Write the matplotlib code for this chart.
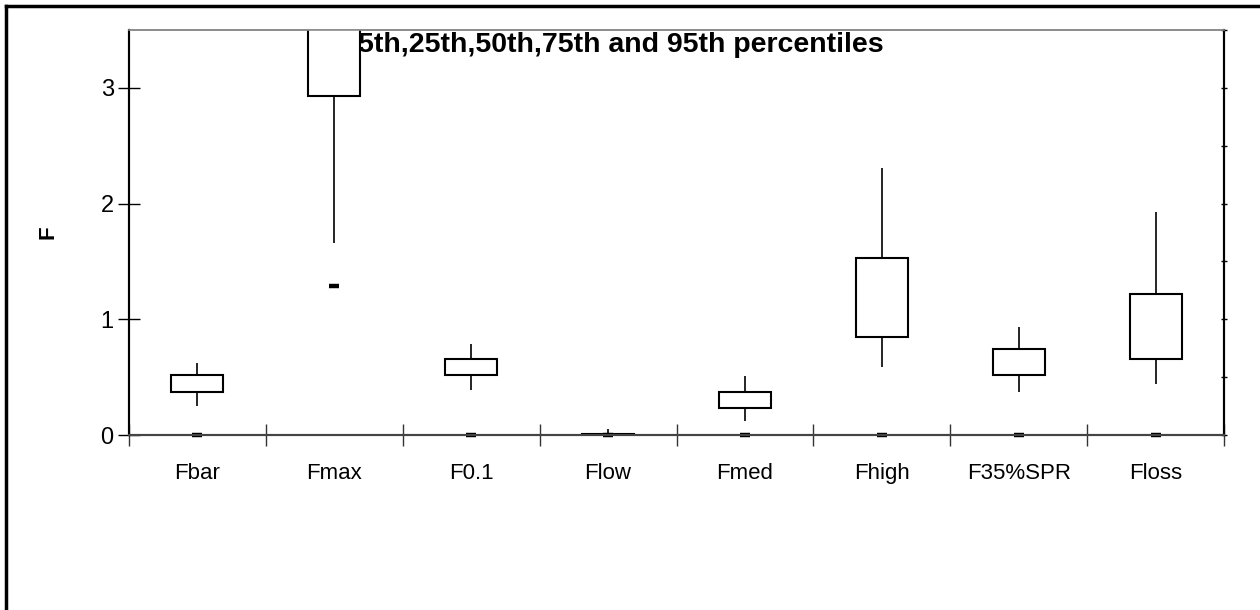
import numpy as np
import matplotlib.pyplot as plt

plt.rcParams['font.family'] = ['Liberation Sans', 'DejaVu Sans']

categories = ['Fbar', 'Fmax', 'F0.1', 'Flow', 'Fmed', 'Fhigh', 'F35%SPR', 'Floss']
p5 = [0.25, 1.66, 0.39, 0.00, 0.12, 0.59, 0.37, 0.44]
p25 = [0.37, 2.93, 0.52, 0.00, 0.23, 0.85, 0.52, 0.66]
p75 = [0.52, 3.90, 0.66, 0.01, 0.37, 1.53, 0.74, 1.22]
p95 = [0.62, 5.00, 0.79, 0.05, 0.51, 2.31, 0.93, 1.93]
marker_vals = [0.0, 1.29, 0.0, 0.0, 0.0, 0.0, 0.0, 0.0]

fig = plt.figure(figsize=(12.6, 6.1), dpi=100)
ax = fig.add_axes([129 / 1260, 1 - 435 / 610, (1224 - 129) / 1260, (435 - 30) / 610])

x = np.arange(len(categories))
lo = np.array(p25)
hi = np.array(p75)

# whiskers
ax.vlines(x, p5, p25, color='black', linewidth=1.2, zorder=2)
ax.vlines(x, p75, p95, color='black', linewidth=1.2, zorder=2)
# boxes
ax.bar(x, hi - lo, bottom=lo, width=0.38, facecolor='white', edgecolor='black',
       linewidth=1.5, zorder=3)
# dash markers
ax.plot(x, marker_vals, linestyle='none', marker='_', markersize=7, markeredgewidth=3.2,
        color='black', zorder=4, clip_on=False)

ax.text(358 / 1260, 1 - 45 / 610, '5th,25th,50th,75th and 95th percentiles', transform=fig.transFigure,
        fontsize=20.5, fontweight='bold', ha='left', va='center', zorder=1)

ax.set_xlim(-0.5, len(categories) - 0.5)
ax.set_ylim(0, 3.5)

ax.set_xticks(x)
ax.set_xticklabels(categories, fontsize=16)
ax.set_xticks(np.arange(-0.5, len(categories) - 0.4, 1), minor=True)
ax.tick_params(axis='x', which='major', length=0, pad=20)
ax.tick_params(axis='x', which='minor', direction='inout', length=16, width=1, color='#333333')

ax.set_yticks([0, 1, 2, 3])
ax.set_yticklabels(['0', '1', '2', '3'], fontsize=17)
ax.tick_params(axis='y', which='major', direction='inout', length=16, width=1, pad=3)
ax.set_ylabel('F', fontsize=16, fontweight='bold', labelpad=30)

# right side axis ticks every 0.5
ax2 = ax.twinx()
ax2.set_ylim(0, 3.5)
ax2.set_yticks(np.arange(0, 3.51, 0.5))
ax2.set_yticklabels([])
ax2.tick_params(axis='y', direction='inout', length=5, width=1)

for a in (ax, ax2):
    a.spines['top'].set_color('#8c8c8c')
    a.spines['top'].set_linewidth(1.2)
    a.spines['left'].set_linewidth(1.5)
    a.spines['right'].set_linewidth(1.5)
    a.spines['bottom'].set_color('#444444')
    a.spines['bottom'].set_linewidth(1.5)

# outer chart frame (left and top visible)
fig.add_artist(plt.Line2D([6 / 1260, 6 / 1260], [0, 1 - 6 / 610], color='black', linewidth=2.5,
                          transform=fig.transFigure))
fig.add_artist(plt.Line2D([6 / 1260, 1], [1 - 6 / 610, 1 - 6 / 610], color='black', linewidth=2.5,
                          transform=fig.transFigure))

plt.savefig('out.png', dpi=100)
